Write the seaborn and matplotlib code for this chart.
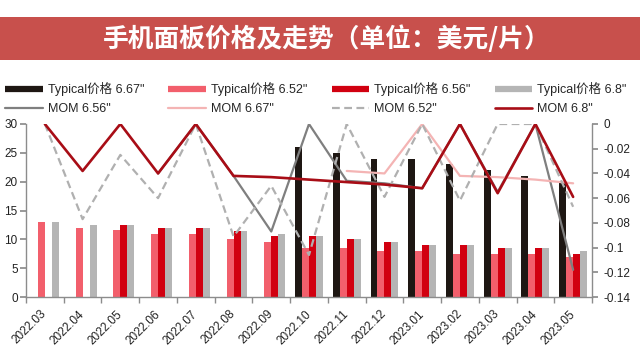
import matplotlib
matplotlib.use('Agg')
import matplotlib.pyplot as plt
import numpy as np
import pandas as pd
import seaborn as sns
from matplotlib.lines import Line2D
from matplotlib.patches import Rectangle

nan = np.nan

months = ['2022.03', '2022.04', '2022.05', '2022.06', '2022.07', '2022.08', '2022.09', '2022.10',
          '2022.11', '2022.12', '2023.01', '2023.02', '2023.03', '2023.04', '2023.05']

# bar series (left axis, USD per panel)
price_667 = [nan, nan, nan, nan, nan, nan, nan, 26, 25, 24, 24, 23, 22, 21, 20]
price_652 = [13, 12, 11.7, 11, 11, 10, 9.5, 8.5, 8.5, 8, 8, 7.5, 7.5, 7.5, 7]
price_656 = [nan, nan, 12.5, 12, 12, 11.5, 10.5, 10.5, 10, 9.5, 9, 9, 8.5, 8.5, 7.5]
price_68 = [13, 12.5, 12.5, 12, 12, 11.5, 11, 10.5, 10, 9.5, 9, 9, 8.5, 8.5, 8]

# month-on-month lines (right axis)
mom_656 = [nan, nan, nan, -0.040, 0, -0.042, -0.087, 0, -0.046, -0.048, -0.052, 0, -0.055, 0, -0.118]
mom_667 = [nan, nan, nan, nan, nan, nan, nan, nan, -0.038, -0.040, 0, -0.042, -0.043, -0.045, -0.048]
mom_652 = [0, -0.077, -0.025, -0.060, 0, -0.091, -0.050, -0.106, 0, -0.059, 0, -0.062, 0, 0, -0.067]
mom_68 = [0, -0.038, 0, -0.040, 0, -0.042, -0.043, -0.045, -0.047, -0.049, -0.052, 0, -0.056, 0, -0.059]

bar_labels = ['Typical价格 6.67"', 'Typical价格 6.52"', 'Typical价格 6.56"', 'Typical价格 6.8"']
bar_colors = ['#1e1713', '#f25f6c', '#d10010', '#b5b5b5']
line_labels = ['MOM 6.56"', 'MOM 6.67"', 'MOM 6.52"', 'MOM 6.8"']
line_colors = ['#7f7f7f', '#f4b4b4', '#b0b0b0', '#a80d16']
line_styles = ['-', '-', (0, (3.5, 2)), '-']
line_widths = [1.6, 1.6, 1.6, 1.9]

sns.set_theme(style='white')
plt.rcParams['font.family'] = ['Liberation Sans', 'Noto Sans CJK SC', 'DejaVu Sans']
axis_grey = '#8c8c8c'

frames = []
for lab, vals in zip(bar_labels, [price_667, price_652, price_656, price_68]):
    frames.append(pd.DataFrame({'month': months, 'price': vals, 'series': lab}))
bars = pd.concat(frames, ignore_index=True)

fig = plt.figure(figsize=(6.4, 3.6), dpi=100)

# title banner
fig.patches.append(Rectangle((0, 1 - 60 / 360), 1, 43 / 360, transform=fig.transFigure,
                             facecolor='#c8504c', edgecolor='none', zorder=0))
fig.text(0.51, 1 - 39 / 360, '手机面板价格及走势（单位：美元/片）', color='white', fontsize=18.5,
         fontweight='bold', ha='center', va='center', family=['Noto Sans CJK SC', 'DejaVu Sans'])

ax = fig.add_axes([26 / 640, 63 / 360, 566 / 640, 173 / 360])
sns.barplot(data=bars, x='month', y='price', hue='series', hue_order=bar_labels,
            palette=bar_colors, width=0.74, saturation=1, errorbar=None, legend=False,
            linewidth=0, ax=ax)

ax2 = ax.twinx()
xpos = np.arange(len(months))
for vals, c, ls, lw in zip([mom_656, mom_667, mom_652, mom_68], line_colors, line_styles, line_widths):
    sns.lineplot(x=xpos, y=np.array(vals, dtype=float), ax=ax2, color=c, linestyle=ls, linewidth=lw)

ax.set_xlim(-0.5, len(months) - 0.5)
ax.set_ylim(0, 30)
ax.set_yticks(range(0, 31, 5))
ax2.set_ylim(-0.14, 0)
r_ticks = [-0.14, -0.12, -0.10, -0.08, -0.06, -0.04, -0.02, 0]
ax2.set_yticks(r_ticks)
ax2.set_yticklabels([f'{round(v, 2):g}' if v != 0 else '0' for v in r_ticks])
for a in (ax, ax2):
    a.set_xlabel('')
    a.set_ylabel('')

ax.set_xticks(xpos)
ax.set_xticklabels(months, rotation=45, ha='right', va='center', rotation_mode='anchor')
ax.set_xticks(np.arange(-0.5, len(months), 1), minor=True)
ax.tick_params(axis='x', which='major', length=0, pad=11, labelsize=8.5, labelcolor='#222222')
ax.tick_params(axis='x', which='minor', length=4, color=axis_grey, direction='out', bottom=True)
ax.tick_params(axis='y', length=4, color=axis_grey, direction='out', left=True, pad=2,
               labelsize=8.5, labelcolor='#222222')
ax2.tick_params(axis='y', length=4, color=axis_grey, direction='out', right=True, pad=4,
                labelsize=8.5, labelcolor='#222222')

for s in ['top', 'right']:
    ax.spines[s].set_visible(False)
for s in ['top', 'left', 'bottom']:
    ax2.spines[s].set_visible(False)
for s in ['left', 'bottom']:
    ax.spines[s].set_color(axis_grey)
    ax.spines[s].set_linewidth(1)
ax2.spines['right'].set_color(axis_grey)
ax2.spines['right'].set_linewidth(1)

# legend: filled column by column, bars on first row, lines on second
handles, labels = [], []
for i in range(4):
    handles.append(Line2D([], [], color=bar_colors[i], lw=4.5, solid_capstyle='butt'))
    labels.append(bar_labels[i])
    handles.append(Line2D([], [], color=line_colors[i], lw=line_widths[i], linestyle=line_styles[i]))
    labels.append(line_labels[i])
fig.legend(handles, labels, ncol=4, loc='upper left', bbox_to_anchor=(5 / 640, 1 - 82 / 360),
           frameon=False, fontsize=9, handlelength=3.0, handletextpad=0.4, columnspacing=1.95,
           labelspacing=0.55, borderpad=0, borderaxespad=0)

fig.savefig('out.png', dpi=100)
